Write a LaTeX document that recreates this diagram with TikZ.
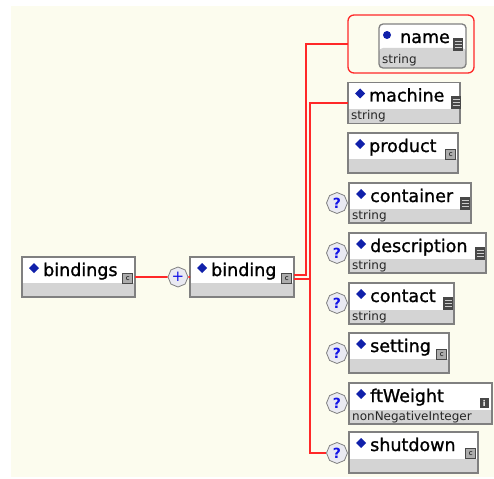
\documentclass[tikz,border=0pt]{standalone}
\usepackage{fontspec}
\setmainfont{DejaVu Sans}
\newfontfamily\lblfont[FakeBold=1.2]{DejaVu Sans}
\usetikzlibrary{shapes.geometric}
\definecolor{cream}{RGB}{252,252,238}
\definecolor{bordergray}{RGB}{128,128,128}
\definecolor{bandgray}{RGB}{212,212,212}
\definecolor{linered}{RGB}{255,40,40}
\definecolor{navy}{RGB}{16,32,170}
\definecolor{qblue}{RGB}{20,20,230}
\definecolor{icondark}{RGB}{72,72,72}
\definecolor{octfill}{RGB}{234,234,242}
\tikzset{
  band/.style={path picture={\fill[bandgray] (path picture bounding box.south west) rectangle ([yshift=#1pt]path picture bounding box.south east);}},
  elem/.style={draw=bordergray, line width=1.3pt, fill=white, rectangle, inner sep=0pt, outer sep=0pt, anchor=north west, band=14},
  lbl/.style={anchor=base west, inner sep=0pt, font=\lblfont\fontsize{17.5}{19}\selectfont},
  typ/.style={anchor=base west, inner sep=0pt, font=\fontsize{12}{13}\selectfont, text=black!85},
  conn/.style={draw=linered, line width=1.7pt},
  octo/.style={regular polygon, regular polygon sides=8, shape border rotate=22.5, minimum size=21pt, inner sep=0pt, draw=bordergray, line width=0.8pt, fill=octfill, text=qblue},
  qmark/.style={octo, font=\bfseries\fontsize{14}{14}\selectfont},
  cpx/.style={draw=icondark, fill=gray!65, line width=0.6pt, minimum size=10pt, inner sep=0pt, anchor=north east, font=\fontsize{7}{7}\selectfont},
  infoicon/.style={fill=icondark, minimum width=9pt, minimum height=10pt, inner sep=0pt, anchor=north east, text=white, font=\bfseries\fontsize{8}{8}\selectfont},
}
\newcommand\elbox[6]{%
  \node[elem, minimum width=#4pt, minimum height=#5pt] (#1) at (#2,#3) {};
  \fill[navy] ([xshift=12pt,yshift=-6pt]#1.north west) -- ++(5pt,-5pt) -- ++(-5pt,-5pt) -- ++(-5pt,5pt) -- cycle;
  \node[lbl] (#1-l) at ([xshift=21pt,yshift=-19pt]#1.north west) {#6};
}
\newcommand\typetext[2]{\node[typ] (#1-t) at ([xshift=3pt,yshift=4pt]#1.south west) {#2};}
\newcommand\stricon[2]{%
  \fill[icondark] ([xshift={-(#2+10)*1pt},yshift=-14pt]#1.north east) rectangle ([xshift={-#2*1pt},yshift=-27pt]#1.north east);
  \foreach \k in {3,6,9}
    \draw[gray!40, line width=0.7pt] ([xshift={-(#2+8.5)*1pt},yshift={-(14+\k)*1pt}]#1.north east) -- ++(7pt,0pt);
}
\newcommand\cpxicon[1]{\node[cpx] (#1-i) at ([xshift=-2pt,yshift=-16pt]#1.north east) {c};}
\begin{document}
\begin{tikzpicture}[x=1pt,y=-1pt]
\useasboundingbox (0,0) rectangle (494,478);
\fill[white] (0,0) rectangle (494,478);
\fill[cream] (11,6) rectangle (494,477);

% root elements
\elbox{bindings}{22}{257}{113}{40}{bindings}
\cpxicon{bindings}
\node[octo, minimum size=20pt, font=\fontsize{15}{15}\selectfont] (plus) at (178,277) {+};
\elbox{binding}{190}{257}{104}{40}{binding}
\cpxicon{binding}

% attribute group
\node[draw=linered, line width=1.3pt, rounded corners=6pt, minimum width=126pt, minimum height=58pt, anchor=north west, inner sep=0pt, outer sep=0pt] (grp) at (348,15) {};
\node[elem, rounded corners=4pt, band=20, minimum width=87pt, minimum height=44pt] (name) at (379,24) {};
\fill[navy] ([xshift=8pt,yshift=-11pt]name.north west) circle (4pt);
\node[lbl] (name-l) at ([xshift=21pt,yshift=-19pt]name.north west) {name};
\typetext{name}{string}
\stricon{name}{3}

% children
\elbox{machine}{348}{82.5}{112}{41}{machine}
\typetext{machine}{string}
\stricon{machine}{-1}

\elbox{product}{348}{133}{110}{40}{product}
\cpxicon{product}

\elbox{container}{349}{183}{122}{40}{container}
\typetext{container}{string}
\stricon{container}{1}

\elbox{description}{349}{233}{137}{40}{description}
\typetext{description}{string}
\stricon{description}{1}

\elbox{contact}{349}{283}{105}{41}{contact}
\typetext{contact}{string}
\stricon{contact}{1}

\elbox{setting}{349}{333}{100}{40}{setting}
\cpxicon{setting}

\elbox{ftWeight}{349}{383}{143}{41}{ftWeight}
\typetext{ftWeight}{nonNegativeInteger}
\node[infoicon] (ftWeight-i) at ([xshift=-3pt,yshift=-15pt]ftWeight.north east) {i};

\elbox{shutdown}{349}{432}{129}{41}{shutdown}
\cpxicon{shutdown}

% optional markers
\node[qmark] (q4) at (337,203) {?};
\node[qmark] (q5) at (337,253) {?};
\node[qmark] (q6) at (337,303) {?};
\node[qmark] (q7) at (337,353) {?};
\node[qmark] (q8) at (337,403) {?};
\node[qmark] (q9) at (337,453) {?};

% connectors
\coordinate (busA) at (310,279);
\draw[conn] (bindings.east) -- (plus.west);
\draw[conn] (plus.east) -- (binding.west);
\draw[conn] ([yshift=2pt]binding.east) -| ([xshift=-42pt]grp.west) -- (grp.west);
\draw[conn] ([yshift=-2pt]binding.east) -- (busA);
\draw[conn] (busA) |- (machine.west);
\draw[conn] (busA) |- (q9.west);
\end{tikzpicture}
\end{document}
